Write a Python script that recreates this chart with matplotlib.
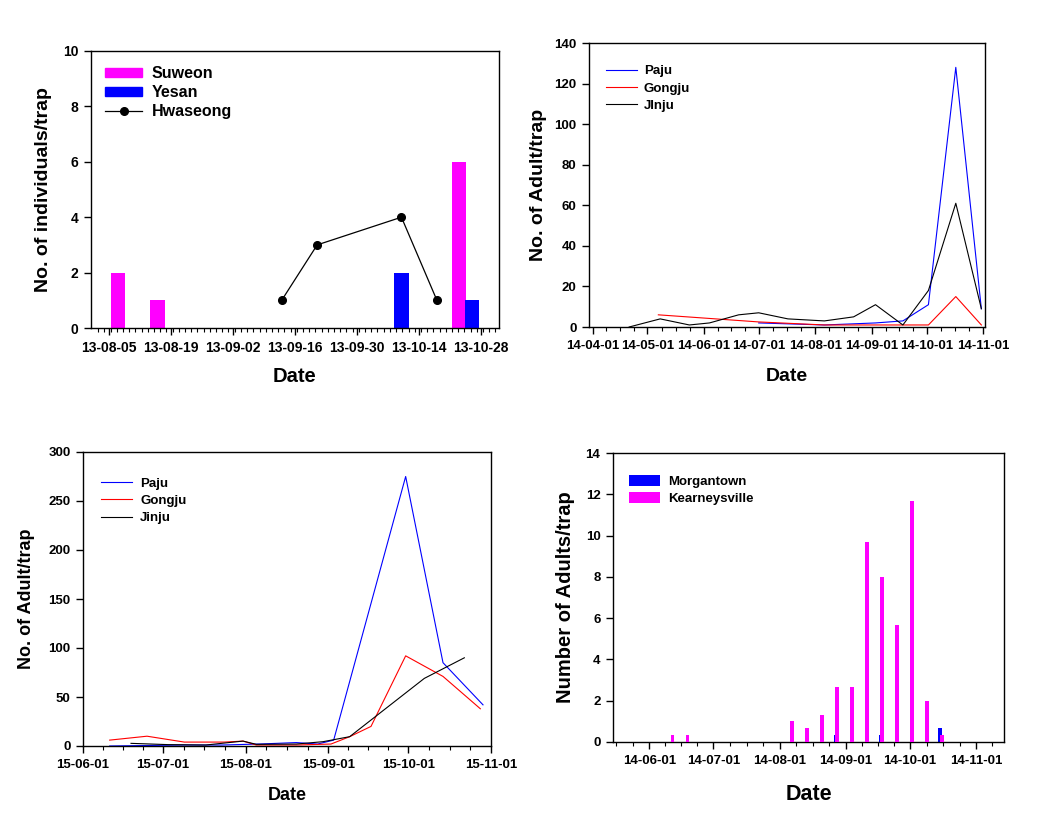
import matplotlib
matplotlib.use('Agg')
import matplotlib.pyplot as plt
import matplotlib.dates as mdates
import pandas as pd
import numpy as np
from matplotlib.patches import Patch
from matplotlib.lines import Line2D

plt.rcParams['font.family'] = ['Liberation Sans', 'DejaVu Sans']
plt.rcParams['font.weight'] = 'bold'

# --- panel 1: 2013, individuals per trap
suweon_dates = ['2013-08-07', '2013-08-16', '2013-10-23']
suweon_vals = [2, 1, 6]
yesan_dates = ['2013-10-10', '2013-10-26']
yesan_vals = [2, 1]
hwaseong_dates = ['2013-09-13', '2013-09-21', '2013-10-10', '2013-10-18']
hwaseong_vals = [1, 3, 4, 1]

# --- panel 2: 2014, Korea
paju14_dates = ['2014-07-01', '2014-08-06', '2014-09-03', '2014-09-18',
                '2014-10-02', '2014-10-17', '2014-10-31']
paju14_vals = [2, 1, 2, 3, 11, 128, 9]
gongju14_dates = ['2014-05-07', '2014-07-01', '2014-08-06', '2014-10-02',
                  '2014-10-17', '2014-10-31']
gongju14_vals = [6, 2.5, 1, 1, 15, 1]
jinju14_dates = ['2014-04-21', '2014-05-08', '2014-05-24', '2014-06-04',
                 '2014-06-20', '2014-07-01', '2014-07-17', '2014-08-06',
                 '2014-08-22', '2014-09-03', '2014-09-18', '2014-10-02',
                 '2014-10-17', '2014-10-31']
jinju14_vals = [0, 4, 1, 2, 6, 7, 4, 3, 5, 11, 1, 18, 61, 9]

# --- panel 3: 2015, Korea
paju15_dates = ['2015-06-11', '2015-06-25', '2015-07-09', '2015-07-23',
                '2015-08-06', '2015-08-20', '2015-08-28', '2015-09-03',
                '2015-09-30', '2015-10-14', '2015-10-29']
paju15_vals = [0, 0.5, 1, 1, 2, 3.5, 2, 6, 275, 85, 42]
gongju15_dates = ['2015-06-11', '2015-06-25', '2015-07-09', '2015-07-24',
                  '2015-07-31', '2015-08-05', '2015-08-20', '2015-09-02',
                  '2015-09-09', '2015-09-17', '2015-09-30', '2015-10-14',
                  '2015-10-28']
gongju15_vals = [6, 10, 4, 4, 5, 1, 1, 2, 9.5, 20, 92, 71, 38]
jinju15_dates = ['2015-06-19', '2015-07-03', '2015-07-17', '2015-07-31',
                 '2015-08-05', '2015-08-20', '2015-08-30', '2015-09-09',
                 '2015-10-07', '2015-10-22']
jinju15_vals = [2.7, 1.4, 1, 5, 1.7, 2, 4.4, 9.5, 69, 90]

# --- panel 4: 2014, USA
kv_dates = ['2014-06-11', '2014-06-18', '2014-08-06', '2014-08-13',
            '2014-08-20', '2014-08-27', '2014-09-03', '2014-09-10',
            '2014-09-17', '2014-09-24', '2014-10-01', '2014-10-08',
            '2014-10-15']
kv_vals = [0.33, 0.33, 1, 0.67, 1.33, 2.67, 2.67, 9.67, 8, 5.67, 11.67, 2, 0.33]
mt_dates = ['2014-08-27', '2014-09-17', '2014-10-15']
mt_vals = [0.33, 0.33, 0.67]


def d(x):
    return pd.to_datetime(pd.Series(x)).dt.to_pydatetime()


def quarter_month_minors(start, end, lo, hi):
    lo, hi = mdates.datestr2num(lo), mdates.datestr2num(hi)
    out = []
    for m in pd.date_range(start, end, freq='MS'):
        nxt = m + pd.offsets.MonthBegin(1)
        span = (nxt - m) / 4
        for k in (1, 2, 3):
            v = mdates.date2num(m + span * k)
            if lo <= v <= hi:
                out.append(v)
    return out


def style(ax, tick_size):
    for s in ax.spines.values():
        s.set_linewidth(1.0)
    ax.tick_params(axis='both', which='major', direction='out', length=5,
                   width=1, labelsize=tick_size, pad=4, top=False, right=False)
    ax.tick_params(axis='x', which='minor', direction='out', length=3, width=0.8)
    for t in ax.get_xticklabels() + ax.get_yticklabels():
        t.set_fontweight('bold')


fig = plt.figure(figsize=(10.56, 8.14), dpi=100)

# ---------------- panel 1
ax1 = fig.add_axes([91/1056, 1-328/814, 408/1056, 277/814])
ax1.bar(d(suweon_dates), suweon_vals, width=3.2, color='#ff00ff', zorder=2)
ax1.bar(d(yesan_dates), yesan_vals, width=3.2, color='#0000ff', zorder=2)
ax1.plot(d(hwaseong_dates), hwaseong_vals, color='black', lw=0.9,
         marker='o', ms=5.5, zorder=3)
ax1.set_yticks(np.arange(0, 11, 2))
maj1 = pd.date_range('2013-08-05', '2013-10-28', freq='14D')
ax1.set_xticks(mdates.date2num(maj1))
ax1.set_xticks(np.arange(mdates.datestr2num('2013-08-01') + 1.6,
                         mdates.datestr2num('2013-11-01'), 1.4), minor=True)
ax1.set_xlim(mdates.datestr2num('2013-08-01'), mdates.datestr2num('2013-11-01'))
ax1.set_ylim(0, 10)
ax1.xaxis.set_major_formatter(mdates.DateFormatter('%y-%m-%d'))
style(ax1, 10)
ax1.set_ylabel('No. of individuals/trap', fontsize=14, fontweight='bold')
ax1.yaxis.set_label_coords(-0.095, 0.5)
ax1.set_xlabel('Date', fontsize=14.5, fontweight='bold')
ax1.xaxis.set_label_coords(0.5, -0.14)
h1 = [Patch(color='#ff00ff'), Patch(color='#0000ff'),
      Line2D([], [], color='black', lw=0.9, marker='o', ms=5.5)]
ax1.legend(h1, ['Suweon', 'Yesan', 'Hwaseong'], loc='upper left',
           bbox_to_anchor=(0.035, 0.945), frameon=False, fontsize=11.5,
           handlelength=2.3, handleheight=0.5, handletextpad=0.6,
           labelspacing=0.25, borderpad=0, borderaxespad=0)

# ---------------- panel 2
ax2 = fig.add_axes([589/1056, 1-327/814, 396/1056, 284/814])
ax2.plot(d(paju14_dates), paju14_vals, color='#0000ff', lw=0.8, label='Paju')
ax2.plot(d(gongju14_dates), gongju14_vals, color='#ff0000', lw=0.8, label='Gongju')
ax2.plot(d(jinju14_dates), jinju14_vals, color='black', lw=0.8, label='JInju')
ax2.set_yticks(np.arange(0, 141, 20))
ax2.set_xticks(mdates.date2num(pd.date_range('2014-04-01', '2014-11-01', freq='MS')))
ax2.set_xticks(quarter_month_minors('2014-03-01', '2014-11-01',
                                    '2014-03-30', '2014-11-02'), minor=True)
ax2.set_xlim(mdates.datestr2num('2014-03-30'), mdates.datestr2num('2014-11-02'))
ax2.set_ylim(0, 140)
ax2.xaxis.set_major_formatter(mdates.DateFormatter('%y-%m-%d'))
style(ax2, 9.5)
ax2.set_ylabel('No. of Adult/trap', fontsize=14, fontweight='bold')
ax2.yaxis.set_label_coords(-0.105, 0.5)
ax2.set_xlabel('Date', fontsize=14, fontweight='bold')
ax2.xaxis.set_label_coords(0.5, -0.145)
ax2.legend(loc='upper left', bbox_to_anchor=(0.043, 0.922), frameon=False,
           fontsize=9.5, handlelength=2.35, handletextpad=0.5,
           labelspacing=0.38, borderpad=0, borderaxespad=0)

# ---------------- panel 3
ax3 = fig.add_axes([83/1056, 1-746/814, 408/1056, 294/814])
ax3.plot(d(paju15_dates), paju15_vals, color='#0000ff', lw=0.8, label='Paju')
ax3.plot(d(gongju15_dates), gongju15_vals, color='#ff0000', lw=0.8, label='Gongju')
ax3.plot(d(jinju15_dates), jinju15_vals, color='black', lw=0.8, label='Jinju')
ax3.set_yticks(np.arange(0, 301, 50))
ax3.set_xticks(mdates.date2num(pd.date_range('2015-06-01', '2015-11-01', freq='MS')))
ax3.set_xticks(quarter_month_minors('2015-06-01', '2015-10-01',
                                    '2015-06-01', '2015-11-01'), minor=True)
ax3.set_xlim(mdates.datestr2num('2015-06-01'), mdates.datestr2num('2015-11-01'))
ax3.set_ylim(0, 300)
ax3.xaxis.set_major_formatter(mdates.DateFormatter('%y-%m-%d'))
style(ax3, 9.5)
ax3.set_ylabel('No. of Adult/trap', fontsize=13, fontweight='bold')
ax3.yaxis.set_label_coords(-0.118, 0.5)
ax3.set_xlabel('Date', fontsize=13, fontweight='bold')
ax3.xaxis.set_label_coords(0.5, -0.14)
ax3.legend(loc='upper left', bbox_to_anchor=(0.045, 0.913), frameon=False,
           fontsize=9.5, handlelength=2.35, handletextpad=0.6,
           labelspacing=0.38, borderpad=0, borderaxespad=0)

# ---------------- panel 4
ax4 = fig.add_axes([613/1056, 1-742/814, 391/1056, 289/814])
ax4.bar(d(mt_dates) + pd.Timedelta(hours=4), mt_vals, width=1.8, color='#0000ff',
        label='Morgantown', zorder=2)
ax4.bar(d(kv_dates) + pd.Timedelta(hours=20), kv_vals, width=1.8, color='#ff00ff',
        label='Kearneysville', zorder=3)
ax4.set_yticks(np.arange(0, 15, 2))
ax4.set_xticks(mdates.date2num(pd.date_range('2014-06-01', '2014-11-01', freq='MS')))
ax4.set_xticks(quarter_month_minors('2014-05-01', '2014-11-01',
                                    '2014-05-15', '2014-11-14'), minor=True)
ax4.set_xlim(mdates.datestr2num('2014-05-15'), mdates.datestr2num('2014-11-14'))
ax4.set_ylim(0, 14)
ax4.xaxis.set_major_formatter(mdates.DateFormatter('%y-%m-%d'))
style(ax4, 9.5)
ax4.set_ylabel('Number of Adults/trap', fontsize=14.5, fontweight='bold')
ax4.yaxis.set_label_coords(-0.097, 0.5)
ax4.set_xlabel('Date', fontsize=15.5, fontweight='bold')
ax4.xaxis.set_label_coords(0.5, -0.145)
ax4.legend(loc='upper left', bbox_to_anchor=(0.04, 0.924), frameon=False,
           fontsize=9.5, handlelength=2.4, handleheight=0.9, handletextpad=0.6,
           labelspacing=0.3, borderpad=0, borderaxespad=0)

fig.savefig('out.png', dpi=100)
